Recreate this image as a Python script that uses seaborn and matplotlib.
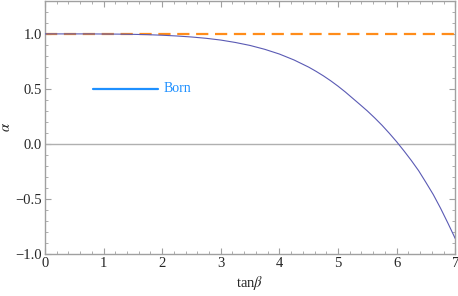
import matplotlib
matplotlib.use("Agg")
import matplotlib.pyplot as plt
import numpy as np
import pandas as pd
import seaborn as sns
from matplotlib.ticker import MultipleLocator

# values
tan_beta = [0.0, 0.25, 0.5, 0.75, 1.0, 1.25, 1.5, 1.75, 2.0, 2.25, 2.5, 2.75,
            3.0, 3.25, 3.5, 3.75, 4.0, 4.25, 4.5, 4.625, 4.75, 4.875,
            5.0, 5.125, 5.25, 5.375, 5.5, 5.625, 5.75, 5.875,
            6.0, 6.125, 6.25, 6.375, 6.5, 6.625, 6.75, 6.875, 7.0]
alpha_curve = [1.000, 1.000, 1.000, 1.000, 0.999, 0.998, 0.996, 0.993, 0.988, 0.981,
               0.972, 0.960, 0.944, 0.922, 0.895, 0.860, 0.817, 0.763, 0.698, 0.660,
               0.619, 0.574, 0.525, 0.472, 0.415, 0.358, 0.300, 0.237, 0.170, 0.097,
               0.020, -0.063, -0.150, -0.243, -0.350, -0.460, -0.585, -0.720, -0.860]
born_x = [0.0, 7.0]
born_alpha = [1.0, 1.0]
legend_x = [0.82, 1.93]
legend_alpha = [0.5, 0.5]

sns.set_style("ticks")
plt.rcParams["font.family"] = ["Liberation Serif", "DejaVu Serif"]
plt.rcParams["mathtext.fontset"] = "stix"

df = pd.DataFrame({"tanb": tan_beta, "alpha": alpha_curve})

fig = plt.figure(figsize=(4.58, 2.96), dpi=100)
ax = fig.add_axes([0.098, 0.142, 0.896, 0.855])

ax.axhline(0.0, color="#b0b0b0", lw=1.0, zorder=1)
sns.lineplot(data=df, x="tanb", y="alpha", ax=ax, color="#5a5ab4", lw=0.8,
             estimator=None, zorder=3)
sns.lineplot(x=born_x, y=born_alpha, ax=ax, color="#ff8c1a", lw=1.6,
             zorder=2).lines[-1].set_dashes([5.5, 3])
sns.lineplot(x=legend_x, y=legend_alpha, ax=ax, color="#1e90ff", lw=1.6, zorder=3)
ax.text(2.03, 0.5, "Born", color="#1e90ff", fontsize=10, va="center", ha="left")

ax.set_xlim(0, 7)
ax.set_ylim(-1.0, 1.3)
ax.xaxis.set_major_locator(MultipleLocator(1))
ax.xaxis.set_minor_locator(MultipleLocator(0.2))
ax.yaxis.set_major_locator(MultipleLocator(0.5))
ax.yaxis.set_minor_locator(MultipleLocator(0.1))
ax.set_xticks(range(8))
ax.set_xticklabels([str(v) for v in range(8)])
ax.set_yticks([-1.0, -0.5, 0.0, 0.5, 1.0])
ax.set_yticklabels(["\u22121.0", "\u22120.5", "0.0", "0.5", "1.0"])

for s in ax.spines.values():
    s.set_color("#a0a0a0")
    s.set_linewidth(1.0)
ax.tick_params(which="both", direction="in", top=True, right=True,
               color="#a0a0a0", labelsize=10.5, pad=2)
ax.tick_params(which="major", length=4, width=0.8)
ax.tick_params(which="minor", length=2, width=0.6)

ax.set_xlabel(r"tan$\beta$", fontsize=10.5, labelpad=3)
ax.set_ylabel(r"$\alpha$", fontsize=10.5, labelpad=2)

fig.savefig("out.png", dpi=100)
